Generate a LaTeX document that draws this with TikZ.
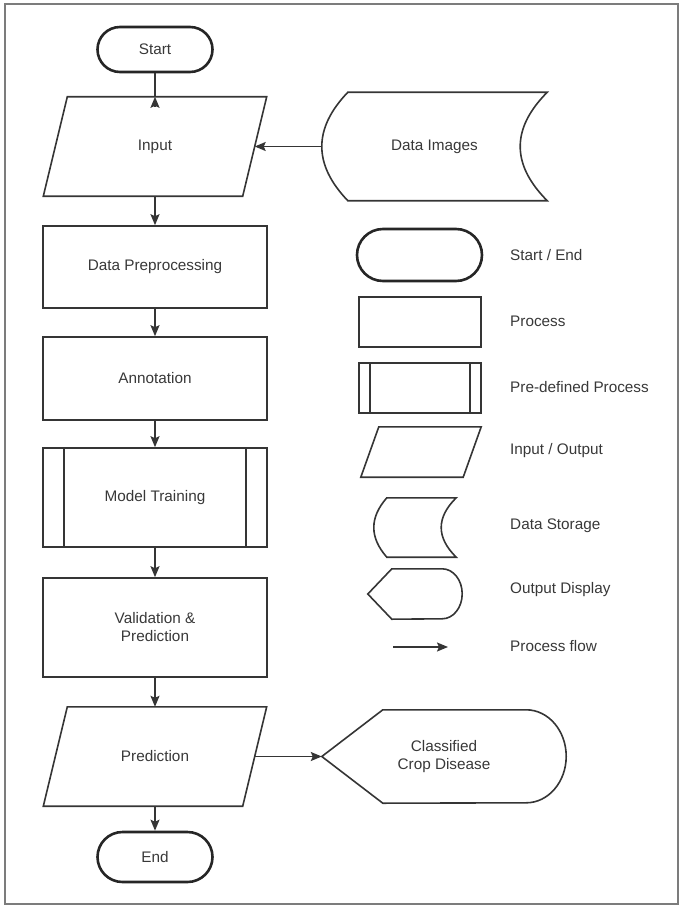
\documentclass[tikz,border=0pt]{standalone}
\usepackage{fontspec}
\setmainfont{Liberation Sans}
\usetikzlibrary{shapes.misc}
\usetikzlibrary{arrows.meta}
\usetikzlibrary{calc}
\usepackage{xcolor}

\definecolor{linegray}{HTML}{353535}
\definecolor{textgray}{HTML}{383838}
\definecolor{framegray}{HTML}{7C7C7C}

\tikzset{
  lbl/.style={text=textgray, font=\fontsize{15.3}{18}\selectfont, inner sep=0pt, align=center},
  term/.style={lbl, rounded rectangle, draw=black!85, line width=2.6pt},
  proc/.style={lbl, rectangle, draw=linegray, line width=1.6pt},
  shell/.style={lbl, rectangle},
  outl/.style={draw=linegray, line width=1.6pt},
  conn/.style={draw=linegray, line width=1.6pt},
  flow/.style={conn, -{Stealth[length=11pt,width=9pt,inset=2pt]}},
  key/.style={lbl, anchor=west}
}

\begin{document}
\begin{tikzpicture}[x=1pt,y=-1pt]
          \useasboundingbox (0,0) rectangle (685,912);
          \draw[framegray, line width=2pt] (5,4) rectangle (678,904);

          % flow chart
          \node[term, minimum width=115pt, minimum height=45pt] (start) at (155,49.5) {Start};
          \node[shell, minimum width=223pt, minimum height=99pt] (in) at (155,146.5) {Input};
          \node[shell, minimum width=225pt, minimum height=108pt] (img) at (434.5,146.5) {Data Images};
          \node[proc, minimum width=224pt, minimum height=82pt] (prep) at (155,267) {Data Preprocessing};
          \node[proc, minimum width=224pt, minimum height=83pt] (ann) at (155,378.5) {Annotation};
          \node[proc, minimum width=224pt, minimum height=99pt] (train) at (155,497.5) {Model Training};
          \node[proc, minimum width=224pt, minimum height=99pt] (val) at (155,627.5) {Validation \&\\Prediction};
          \node[shell, minimum width=223pt, minimum height=99pt] (pred) at (155,756.5) {Prediction};
          \node[shell, minimum width=244pt, minimum height=93pt] (out) at (444,756.5) {Classified\\Crop Disease};
          \node[term, minimum width=115pt, minimum height=50pt] (end) at (155,857) {End};

          % legend
          \node[term, minimum width=125pt, minimum height=52pt] (lse) at (419.5,255) {};
          \node[proc, minimum width=122pt, minimum height=50pt] (lproc) at (420,322) {};
          \node[proc, minimum width=122pt, minimum height=50pt] (lpre) at (420,388) {};
          \node[shell, minimum width=120pt, minimum height=50pt] (lio) at (421,452) {};
          \node[shell, minimum width=82pt, minimum height=59pt] (lds) at (415,527.5) {};
          \node[shell, minimum width=94pt, minimum height=50pt] (lod) at (415,594) {};
          \coordinate (lfa) at (393,647);
          \coordinate (lfb) at (448,647);

          \node[key] (tse) at (510,255) {Start / End};
          \node[key] (tproc) at (510,321) {Process};
          \node[key] (tpre) at (510,387) {Pre-defined Process};
          \node[key] (tio) at (510,451) {Input / Output};
          \node[key] (tds) at (510,526) {Data Storage};
          \node[key] (tod) at (510,590) {Output Display};
          \node[key] (tflow) at (510,646) {Process flow};

          % outlines
          \foreach \n/\s in {in/24pt, pred/24pt, lio/18pt}
            \draw[outl] ([xshift=\s]\n.north west) -- (\n.north east) -- ([xshift=-\s]\n.south east) -- (\n.south west) -- cycle;
          \foreach \n/\a/\b in {img/26pt/27pt, lds/13pt/15pt}
            \draw[outl] ([xshift=\a]\n.north west) -- (\n.north east)
              .. controls ($(\n.north east)!2/3!([xshift=-2*\b]\n.east)$) and ($(\n.south east)!2/3!([xshift=-2*\b]\n.east)$) .. (\n.south east)
              -- ([xshift=\a]\n.south west)
              .. controls ($([xshift=\a]\n.south west)!2/3!([xshift=-\a]\n.west)$) and ($([xshift=\a]\n.north west)!2/3!([xshift=-\a]\n.west)$) .. ([xshift=\a]\n.north west) -- cycle;
          \foreach \n/\a/\r/\h in {out/61pt/40pt/46.5pt, lod/24pt/20pt/25pt}
            \draw[outl] (\n.west) -- ([xshift=\a]\n.north west) -- ([xshift=-\r]\n.north east) arc[start angle=90, end angle=-90, x radius=\r, y radius=\h] -- ([xshift=\a]\n.south west) -- cycle;
          \foreach \n/\d in {train/22pt, lpre/12pt}{
            \draw[outl] ([xshift=\d]\n.north west) -- ([xshift=\d]\n.south west);
            \draw[outl] ([xshift=-\d]\n.north east) -- ([xshift=-\d]\n.south east);
          }

          % connectors
          \draw[conn] (start.south) -- (in.north);
          \draw[flow] ([yshift=-10pt]in.north) -- (in.north);
          \draw[flow] (img.west) -- ([xshift=-12pt]in.east);
          \draw[flow] (in.south) -- (prep.north);
          \draw[flow] (prep.south) -- (ann.north);
          \draw[flow] (ann.south) -- (train.north);
          \draw[flow] (train.south) -- (val.north);
          \draw[flow] (val.south) -- (pred.north);
          \draw[flow] (pred.south) -- (end.north);
          \draw[flow] ([xshift=-12pt]pred.east) -- (out.west);
          \draw[flow] (lfa) -- (lfb);
        \end{tikzpicture}
\end{document}
